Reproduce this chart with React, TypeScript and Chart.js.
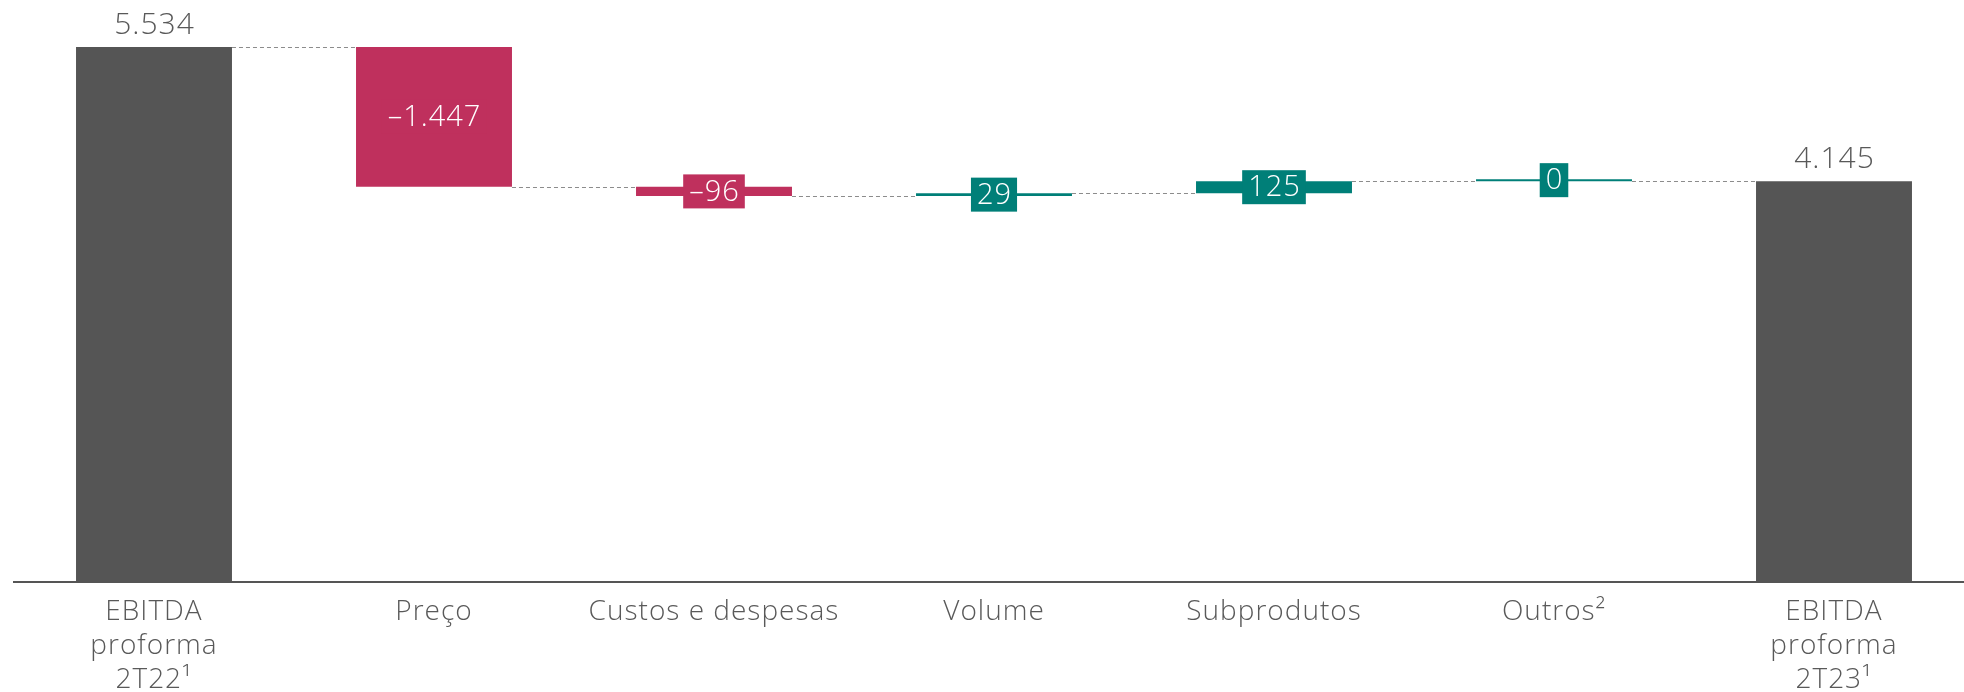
import React, { useEffect, useRef } from "react";
import { Chart, registerables } from "chart.js";

Chart.register(...registerables);

const categories: (string | string[])[] = [
  ["EBITDA", "proforma", "2T22¹"],
  "Preço",
  "Custos e despesas",
  "Volume",
  "Subprodutos",
  "Outros²",
  ["EBITDA", "proforma", "2T23¹"],
];
const startValue = 5534;
const deltas = [-1447, -96, 29, 125, 0];
const endValue = 4145;

const COLOR_TOTAL = "#555555";
const COLOR_NEG = "#BF305D";
const COLOR_POS = "#007F78";
const FONT = "'Open Sans', sans-serif";

function fmt(v: number): string {
  const abs = Math.abs(v).toString().replace(/\B(?=(\d{3})+(?!\d))/g, ".");
  return (v < 0 ? "–" : "") + abs;
}

export default function App() {
  const ref = useRef<HTMLCanvasElement | null>(null);

  useEffect(() => {
    if (!ref.current) return;
    const ranges: [number, number][] = [];
    const levels: number[] = [];
    const colors: string[] = [];
    const labels: string[] = [];
    const isTotal: boolean[] = [];
    ranges.push([0, startValue]);
    levels.push(startValue);
    colors.push(COLOR_TOTAL);
    labels.push(fmt(startValue));
    isTotal.push(true);
    let run = startValue;
    deltas.forEach((d) => {
      const next = run + d;
      ranges.push([Math.min(run, next), Math.max(run, next)]);
      levels.push(next);
      colors.push(d < 0 ? COLOR_NEG : COLOR_POS);
      labels.push(fmt(d));
      isTotal.push(false);
      run = next;
    });
    ranges.push([0, endValue]);
    levels.push(endValue);
    colors.push(COLOR_TOTAL);
    labels.push(fmt(endValue));
    isTotal.push(true);

    const spacingPlugin = {
      id: "letterSpacing",
      beforeDraw(chart: any) {
        (chart.ctx as any).letterSpacing = "1px";
      },
    };

    const waterfallPlugin = {
      id: "waterfallDecor",
      afterDatasetsDraw(chart: any) {
        const ctx = chart.ctx;
        const meta = chart.getDatasetMeta(0);
        const y = chart.scales.y;
        ctx.save();
        ctx.strokeStyle = "#8C8C8C";
        ctx.lineWidth = 1.2;
        ctx.setLineDash([4, 3]);
        for (let i = 0; i < meta.data.length - 1; i++) {
          const a = meta.data[i];
          const b = meta.data[i + 1];
          const py = Math.round(y.getPixelForValue(levels[i])) + 0.5;
          ctx.beginPath();
          ctx.moveTo(a.x + a.width / 2, py);
          ctx.lineTo(b.x - b.width / 2, py);
          ctx.stroke();
        }
        ctx.setLineDash([]);
        (ctx as any).letterSpacing = "1px";
        meta.data.forEach((bar: any, i: number) => {
          const top = Math.min(bar.y, bar.base);
          const bottom = Math.max(bar.y, bar.base);
          ctx.textAlign = "center";
          if (isTotal[i]) {
            ctx.font = `300 30px ${FONT}`;
            ctx.fillStyle = "#595959";
            ctx.textBaseline = "alphabetic";
            ctx.fillText(labels[i], bar.x + 0.5, top - 13);
          } else {
            ctx.font = `300 29px ${FONT}`;
            const cy = (top + bottom) / 2;
            const w = ctx.measureText(labels[i]).width + 11;
            const h = 34;
            ctx.fillStyle = colors[i];
            ctx.fillRect(bar.x - w / 2, cy - h / 2, w, h);
            ctx.fillStyle = "#FFFFFF";
            ctx.textBaseline = "middle";
            ctx.fillText(labels[i], bar.x + 0.5, cy + 1);
          }
        });
        ctx.restore();
      },
    };

    const chart = new Chart(ref.current, {
      type: "bar",
      data: {
        labels: categories as any,
        datasets: [
          {
            data: ranges as any,
            backgroundColor: colors,
            borderWidth: 0,
            categoryPercentage: 1,
            barPercentage: 0.557,
            minBarLength: 2,
          },
        ],
      },
      options: {
        responsive: false,
        animation: false,
        devicePixelRatio: 1,
        layout: { padding: { top: 47, left: 14, right: 0, bottom: 0 } },
        plugins: {
          legend: { display: false },
          tooltip: { enabled: false },
        },
        scales: {
          x: {
            grid: { display: false, drawTicks: false },
            border: { display: true, color: "#555555", width: 2 },
            ticks: {
              color: "#595959",
              font: { family: FONT, size: 28, weight: 300 as any, lineHeight: 1.22 },
              padding: 13,
              maxRotation: 0,
              autoSkip: false,
            },
          },
          y: {
            display: false,
            min: 0,
            max: startValue,
          },
        },
      },
      plugins: [spacingPlugin, waterfallPlugin],
    });
    return () => chart.destroy();
  }, []);

  return (
    <div
      style={{
        position: "fixed",
        left: 0,
        top: 0,
        width: 1964,
        height: 692,
        overflow: "hidden",
        background: "#fff",
      }}
    >
      <canvas ref={ref} width={1974} height={710} style={{ width: 1974, height: 710, display: "block" }} />
    </div>
  );
}
